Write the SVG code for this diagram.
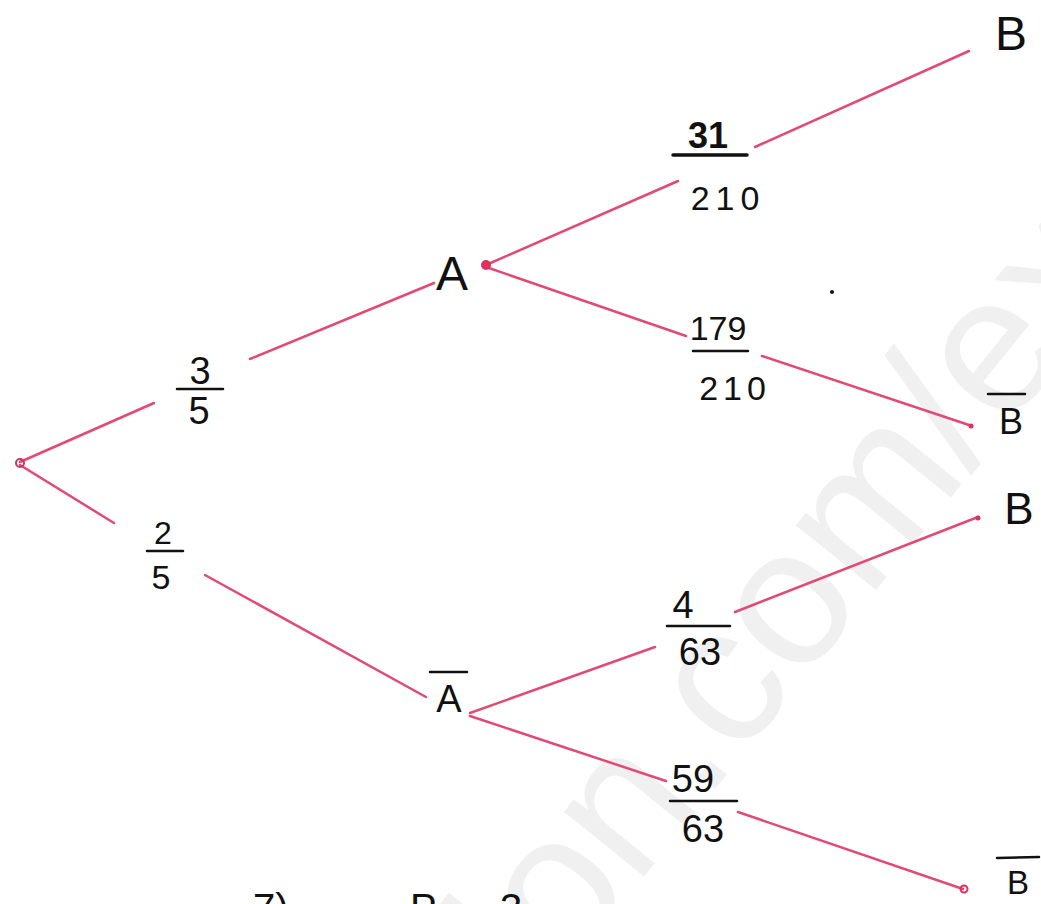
<svg xmlns="http://www.w3.org/2000/svg" width="1041" height="904" viewBox="0 0 1041 904">
  <style>
    .hw { font-family: "Liberation Sans", Arial, sans-serif; fill: #111; }
    .lbl { font-size: 38px; text-anchor: middle; }
    .node { text-anchor: middle; }
    .bar { stroke: #111; stroke-width: 2.5; stroke-linecap: round; }
    .edge { stroke: #e14a74; stroke-width: 2.5; stroke-linecap: round; fill: none; }
    .wm { font-family: "Liberation Sans", Arial, sans-serif; font-size: 195px; fill: #f0f0f0; }
  </style>
  <rect width="1041" height="904" fill="#ffffff"/>

  <!-- watermark -->
  <text class="wm" transform="translate(540,1005) rotate(-51)">ion.com/ex</text>

  <!-- connectors -->
  <g id="connectors">
    <line class="edge" x1="20" y1="462" x2="154" y2="403"/>
    <line class="edge" x1="250" y1="359" x2="434" y2="283"/>
    <line class="edge" x1="20" y1="465" x2="114" y2="523"/>
    <line class="edge" x1="205" y1="575" x2="426" y2="697"/>
    <line class="edge" x1="486" y1="265" x2="678" y2="181"/>
    <line class="edge" x1="755" y1="147" x2="969" y2="51"/>
    <line class="edge" x1="486" y1="267" x2="686" y2="336"/>
    <line class="edge" x1="762" y1="356" x2="972" y2="426"/>
    <line class="edge" x1="470" y1="713" x2="655" y2="647"/>
    <line class="edge" x1="735" y1="612" x2="978" y2="517"/>
    <line class="edge" x1="470" y1="716" x2="666" y2="781"/>
    <line class="edge" x1="738" y1="812" x2="963" y2="889"/>
    <circle cx="20" cy="463" r="4" fill="none" stroke="#c83a60" stroke-width="2"/>
    <circle cx="486" cy="265" r="5" fill="#e0305e"/>
    <circle cx="971" cy="426" r="2.5" fill="#e0305e"/>
    <circle cx="978" cy="518" r="2.5" fill="#e0305e"/>
    <circle cx="964" cy="889" r="3.5" fill="none" stroke="#e0305e" stroke-width="2"/>
  </g>

  <!-- probability labels -->
  <g id="p-3-5" class="hw">
    <text class="lbl" x="200" y="384">3</text>
    <line class="bar" x1="177" y1="389" x2="223" y2="389"/>
    <text class="lbl" x="199" y="424">5</text>
  </g>
  <g id="p-2-5" class="hw">
    <text class="lbl" x="163" y="544" style="font-size:32px">2</text>
    <line class="bar" x1="147" y1="551" x2="183" y2="551"/>
    <text class="lbl" x="161" y="589" style="font-size:34px">5</text>
  </g>
  <g id="p-31-210" class="hw">
    <text class="lbl" x="708" y="148" style="font-weight:bold;font-size:36px">31</text>
    <line class="bar" x1="673" y1="155" x2="747" y2="155" style="stroke-width:3.5"/>
    <text class="lbl" x="728" y="210" style="font-size:34px;letter-spacing:6px">210</text>
  </g>
  <g id="p-179-210" class="hw">
    <text class="lbl" x="718" y="340" style="font-size:34px">179</text>
    <line class="bar" x1="693" y1="351" x2="748" y2="351"/>
    <text class="lbl" x="735" y="400" style="font-size:34px;letter-spacing:5px">210</text>
  </g>
  <g id="p-4-63" class="hw">
    <text class="lbl" x="683" y="618">4</text>
    <line class="bar" x1="667" y1="626" x2="730" y2="626"/>
    <text class="lbl" x="700" y="665">63</text>
  </g>
  <g id="p-59-63" class="hw">
    <text class="lbl" x="693" y="792">59</text>
    <line class="bar" x1="670" y1="801" x2="737" y2="801"/>
    <text class="lbl" x="703" y="842">63</text>
  </g>

  <!-- nodes -->
  <g id="node-A" class="hw">
    <text class="node" x="452" y="290" style="font-size:48px">A</text>
  </g>
  <g id="node-Abar" class="hw">
    <line class="bar" x1="430" y1="672" x2="467" y2="672"/>
    <text class="node" x="449" y="712" style="font-size:38px">A</text>
  </g>
  <g id="node-B1" class="hw">
    <text class="node" x="1011" y="50" style="font-size:48px">B</text>
  </g>
  <g id="node-Bbar1" class="hw">
    <line class="bar" x1="988" y1="394" x2="1025" y2="394"/>
    <text class="node" x="1011" y="434" style="font-size:36px">B</text>
  </g>
  <g id="node-B2" class="hw">
    <text class="node" x="1019" y="524" style="font-size:44px">B</text>
  </g>
  <g id="node-Bbar2" class="hw">
    <line class="bar" x1="997" y1="858" x2="1039" y2="857"/>
    <text class="node" x="1018" y="894" style="font-size:33px">B</text>
  </g>

  <!-- partial text cut at the bottom edge -->
  <g id="bottom-text" class="hw" style="font-size:40px">
    <text x="253" y="922">7)</text>
    <text x="410" y="922">P</text>
    <text x="500" y="922">3</text>
  </g>

  <circle cx="832" cy="292" r="2" fill="#111"/>
</svg>
